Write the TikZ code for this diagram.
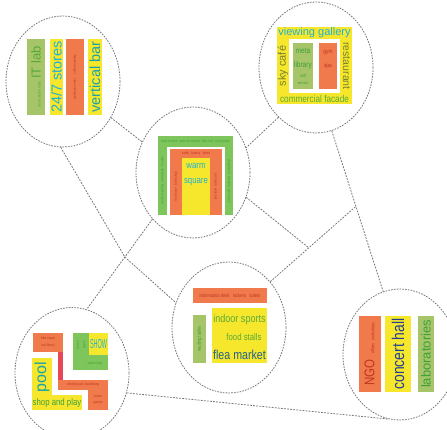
\documentclass[tikz,border=0pt]{standalone}
\usepackage{fontspec}
\setmainfont{Liberation Sans}
\newfontfamily\nar[FakeStretch=0.82]{Liberation Sans}
\usetikzlibrary{shapes.geometric,calc}

\definecolor{ylw}{RGB}{246,231,44}
\definecolor{org}{RGB}{240,122,76}
\definecolor{olv}{RGB}{166,196,104}
\definecolor{grn}{RGB}{126,198,92}
\definecolor{stem}{RGB}{228,72,88}
\definecolor{cyn}{RGB}{30,176,214}
\definecolor{teal}{RGB}{24,162,168}
\definecolor{dgrn}{RGB}{62,160,60}
\definecolor{mgrn}{RGB}{86,170,58}
\definecolor{dolv}{RGB}{120,128,48}
\definecolor{dred}{RGB}{190,52,32}
\definecolor{dblu}{RGB}{36,62,150}
\definecolor{sblu}{RGB}{32,96,140}
\definecolor{lnk}{RGB}{118,118,122}

\newcommand{\fs}[1]{\fontsize{#1}{#1}\selectfont}

\begin{document}
\begin{tikzpicture}[x=1pt,y=-1pt,
  zone/.style={ellipse, draw=lnk, line width=0.8pt, dash pattern=on 1.6pt off 1.2pt,
               minimum width=114pt, minimum height=131pt, inner sep=0pt},
  link/.style={draw=lnk, line width=0.8pt, dash pattern=on 1.8pt off 1.3pt},
  lbl/.style={inner sep=0pt, outer sep=0pt, align=center},
  tiny/.style={lbl, font=\nar\fs{3.6}}]
\useasboundingbox[fill=white] (0,0) rectangle (447,430);

% ---------- the six zones ----------
\node[zone] (tl)  at (63,81.5)  {};
\node[zone] (tr)  at (316,67.5) {};
\node[zone] (ctr) at (193,172.5) {};
\node[zone] (mid) at (229,327.5) {};
\node[zone] (bl)  at (72,373)   {};
\node[zone] (br)  at (400,354.5) {};

% ---------- connectors ----------
\coordinate (j3) at ($(tr.-76)!0.47!(br.105)$);
\coordinate (j2) at ($(j3)!0.55!(mid.48)$);
\coordinate (j1) at ($(ctr.-131)!0.42!(bl.77)$);

\draw[link] (tl.-37) -- (ctr.149);
\draw[link] (tr.-127) -- (ctr.25);
\draw[link] (tl.-92) -- (j1) -- (mid.155);
\draw[link] (ctr.-131) -- (j1) -- (bl.77);
\draw[link] (ctr.-25) -- (j2);
\draw[link] (mid.48) -- (j2) -- (j3);
\draw[link] (tr.-76) -- (j3) -- (br.105);
\draw[link] (bl.-20) -- (br.-100);

% ---------- top-left: vertical bars ----------
\fill[olv] (27,39) rectangle (45,115);
\fill[ylw] (50,39) rectangle (63,115);
\fill[org] (66,39) rectangle (84,115);
\fill[ylw] (88,39) rectangle (102,115);
\node[lbl, rotate=90, text=mgrn] (tlA) at (36,77)
  {{\nar\fs{4}smart media room}\ {\fs{13}IT lab}};
\node[lbl, rotate=90, text=cyn, font=\fs{14.5}] (tlB) at (56.5,77) {24/7 stores};
\node[tiny, rotate=90, text=dred] (tlC) at (75,77) {wellness corner \quad coffee roastery};
\node[lbl, rotate=90, text=teal, font=\fs{14.5}] (tlD) at (95,77) {vertical bar};

% ---------- top-right: framed gallery ----------
\fill[ylw] (277,27) rectangle (352,104);
\fill[white] (289,39) rectangle (340,93);
\fill[olv] (293,43) rectangle (313,89);
\fill[org] (319,43) rectangle (337,89);
\node[lbl, text=cyn, font=\fs{11}] (trA) at (314.5,33) {viewing gallery};
\node[lbl, text=mgrn, font=\nar\fs{10}] (trB) at (314.5,99) {commercial facade};
\node[lbl, rotate=-90, text=dolv, font=\fs{10.5}] (trC) at (346.5,66) {restaurant};
\node[lbl, rotate=90, text=dolv, font=\fs{11}] (trD) at (283,66) {sky café};
\node[lbl, text=dgrn, font=\nar\fs{8}] (trE) at (303,51) {meta};
\node[lbl, text=dgrn, font=\nar\fs{8}] (trF) at (303,65) {library};
\node[lbl, text=dgrn, font=\nar\fs{4.5}] (trG) at (303,76) {self};
\node[lbl, text=dgrn, font=\nar\fs{4}] (trH) at (303,83) {service};
\node[lbl, text=dred, font=\nar\fs{6}] (trI) at (328,53) {gym};
\node[lbl, text=dred, font=\nar\fs{6}] (trJ) at (328,67) {spa};

% ---------- centre: nested frames ----------
\fill[grn] (158,136) rectangle (233,215);
\fill[white] (167,147) rectangle (225,215);
\fill[org] (170,149) rectangle (222,215);
\fill[ylw] (182,158) rectangle (210,215);
\node[lbl, text=cyn, font=\nar\fs{9.5}] (cA) at (196,166) {warm};
\node[lbl, text=cyn, font=\nar\fs{9.5}] (cB) at (196,182) {square};
\node[tiny, text=dgrn] (cC) at (195.5,141.5) {solar terrace \ open air cinema \ bike hub \ roof garden};
\node[tiny, rotate=90, text=dgrn] (cD) at (162.5,181) {outdoor seating \ \ skate park \ \ market};
\node[tiny, rotate=-90, text=dgrn] (cE) at (229,181) {playground \ \ fountain \ \ green wall};
\node[tiny, text=dred] (cF) at (196,153.5) {cafés \ \ bakery \ \ bistro};
\node[tiny, rotate=90, text=dred] (cG) at (176,186.5) {tea house \ \ book shop};
\node[tiny, rotate=-90, text=dred] (cH) at (216,186.5) {ice cream \ \ wine bar};

% ---------- middle: market hall ----------
\fill[org] (193,288) rectangle (267,303);
\fill[olv] (193,315) rectangle (206,363);
\fill[ylw] (212,308) rectangle (267,363);
\node[lbl, text=dred, font=\nar\fs{5}] (mA) at (230,295.5) {information desk \ \ lockers \ \ toilets};
\node[lbl, rotate=90, text=dgrn, font=\nar\fs{5}] (mB) at (199.5,339) {reading tables};
\node[lbl, text=mgrn, font=\nar\fs{11}] (mC) at (239.5,320) {indoor sports};
\node[lbl, text=mgrn, font=\nar\fs{9.5}] (mD) at (244,337) {food stalls};
\node[lbl, text=sblu, font=\nar\fs{13}] (mE) at (239.5,354.5) {flea market};

% ---------- bottom-left: interlocking blocks ----------
\fill[org] (33,333) rectangle (63,352);
\fill[stem] (58,352) rectangle (63,380);
\fill[org] (58,380) rectangle (108,390);
\fill[org] (88,390) rectangle (108,410);
\fill[grn] (73,333) rectangle (108,370);
\fill[ylw] (89,333) rectangle (108,355);
\fill[ylw] (32,358) rectangle (52,397);
\fill[ylw] (32,395) rectangle (82,410);
\node[tiny, text=dred] (bA) at (48,339) {bike repair};
\node[tiny, text=dred] (bB) at (48,346) {tool library};
\node[tiny, text=dred] (bC) at (83,385) {climbing wall \ bouldering};
\node[tiny, text=dred] (bD) at (98,396) {indoor};
\node[tiny, text=dred] (bE) at (98,403) {garden};
\node[tiny, rotate=90, text=dgrn] (bF) at (77.5,345) {dance};
\node[tiny, rotate=90, text=dgrn] (bG) at (84,345) {studio};
\node[tiny, text=dgrn] (bH) at (95,364) {skate ramp};
\node[lbl, text=cyn, font=\fs{13}, xscale=0.42] (bI) at (98.5,344) {SHOW};
\node[lbl, rotate=90, text=teal, font=\fs{16}] (bJ) at (42,377) {pool};
\node[lbl, text=dgrn, font=\nar\fs{9.5}] (bK) at (57,403) {shop and play};

% ---------- bottom-right: vertical bars ----------
\fill[org] (359,316) rectangle (381,392);
\fill[ylw] (385,316) rectangle (411,392);
\fill[olv] (418,316) rectangle (434,392);
\node[lbl, rotate=90, text=dred] (rA) at (370,354)
  {{\nar\fs{14}NGO}\ \ {\nar\fs{4.5}offices \ \ workshops}};
\node[lbl, rotate=90, text=dblu, font=\nar\fs{17}] (rB) at (398,354) {concert hall};
\node[lbl, rotate=90, text=dgrn, font=\fs{13}] (rC) at (426,354) {laboratories};
\end{tikzpicture}
\end{document}
